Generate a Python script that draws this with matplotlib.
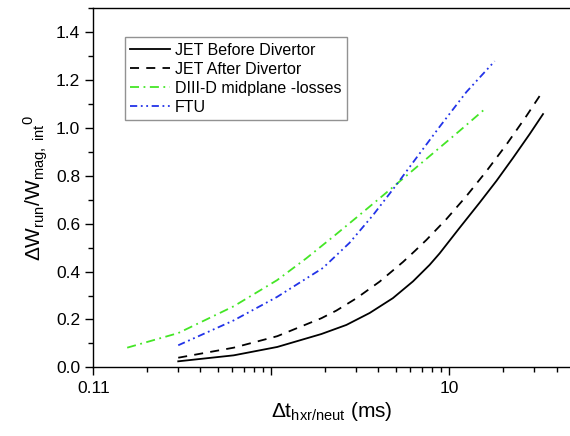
import matplotlib
matplotlib.use("Agg")
import matplotlib.pyplot as plt
from matplotlib.ticker import FixedLocator, FixedFormatter, MultipleLocator, LogLocator, NullFormatter, FormatStrFormatter

plt.rcParams['font.family'] = ['Liberation Sans', 'DejaVu Sans']
plt.rcParams['mathtext.fontset'] = 'custom'
plt.rcParams['mathtext.rm'] = 'Liberation Sans'
plt.rcParams['mathtext.it'] = 'Liberation Sans'
plt.rcParams['mathtext.bf'] = 'Liberation Sans:bold'

# data
jet_before_x = [0.30, 0.615, 1.08, 1.91, 2.64, 3.57, 4.82, 6.25, 7.75, 8.82, 11.4, 14.8, 18.4, 22.8, 28.3, 33.6]
jet_before_y = [0.025, 0.050, 0.085, 0.139, 0.177, 0.227, 0.289, 0.359, 0.428, 0.476, 0.582, 0.688, 0.779, 0.875, 0.975, 1.058]

jet_after_x = [0.30, 0.615, 1.08, 1.91, 2.32, 3.00, 4.06, 5.49, 6.38, 7.43, 9.62, 12.46, 16.1, 20.9, 27.1, 33.6]
jet_after_y = [0.040, 0.082, 0.130, 0.205, 0.237, 0.288, 0.358, 0.440, 0.485, 0.532, 0.619, 0.715, 0.818, 0.930, 1.050, 1.155]

diiid_x = [0.155, 0.30, 0.615, 1.077, 1.57, 2.22, 3.00, 4.24, 5.73, 8.09, 11.42, 16.0]
diiid_y = [0.082, 0.143, 0.255, 0.364, 0.455, 0.545, 0.625, 0.718, 0.800, 0.894, 0.988, 1.082]

ftu_x = [0.30, 0.615, 1.077, 1.95, 2.75, 3.72, 5.04, 6.53, 8.82, 12.46, 17.97]
ftu_y = [0.092, 0.196, 0.294, 0.415, 0.520, 0.635, 0.762, 0.875, 1.005, 1.150, 1.279]

labels = ["JET Before Divertor", "JET After Divertor", "DIII-D midplane -losses", "FTU"]
xtick_vals = [0.1, 1, 10]
xtick_labels = ["0.11", "", "10"]

fig = plt.figure(figsize=(5.70, 4.36), dpi=100)
ax = fig.add_axes([93.3/570, (436-367.3)/436, 477.3/570, 359/436])

ax.plot(jet_before_x, jet_before_y, color='black', lw=1.3, ls='-', label=labels[0])
ax.plot(jet_after_x, jet_after_y, color='black', lw=1.3, ls=(0, (5, 4)), label=labels[1])
ax.plot(diiid_x, diiid_y, color='#44e626', lw=1.3, ls=(0, (5, 2.5, 1, 2.5)), label=labels[2])
ax.plot(ftu_x, ftu_y, color='#2233e8', lw=1.3, ls=(0, (4, 2, 1, 2, 1, 2)), label=labels[3])

ax.set_xscale('log')
ax.set_xlim(0.1, 48)
ax.set_ylim(0, 1.5)

ax.xaxis.set_major_locator(FixedLocator(xtick_vals))
ax.xaxis.set_major_formatter(FixedFormatter(xtick_labels))
ax.xaxis.set_minor_locator(LogLocator(base=10, subs=range(2, 10)))
ax.xaxis.set_minor_formatter(NullFormatter())
ax.yaxis.set_major_locator(MultipleLocator(0.2))
ax.yaxis.set_minor_locator(MultipleLocator(0.1))
ax.yaxis.set_major_formatter(FormatStrFormatter('%.1f'))

ax.tick_params(which='major', direction='out', length=6, width=1, labelsize=12.5)
ax.tick_params(which='minor', direction='out', length=3.5, width=1)
ax.tick_params(axis='x', which='major', pad=4)
for s in ax.spines.values():
    s.set_linewidth(1.0)
ax.spines['right'].set_visible(False)

ax.set_xlabel(r'$\Delta \mathrm{t}_{\mathrm{hxr/neut}}$ (ms)', fontsize=15, labelpad=3)
ax.set_ylabel(r'$\Delta \mathrm{W}_{\mathrm{run}}/\mathrm{W}_{\mathrm{mag,\ int}}{}^{\mathrm{0}}$', fontsize=15, labelpad=4)

leg = ax.legend(loc='upper left', bbox_to_anchor=(0.066, 0.92), fontsize=11.5,
                frameon=True, fancybox=False, handlelength=2.5, handletextpad=0.3,
                borderpad=0.35, labelspacing=0.25, borderaxespad=0)
leg.get_frame().set_edgecolor('#777777')
leg.get_frame().set_linewidth(1.0)

fig.savefig('out.png', dpi=100)
